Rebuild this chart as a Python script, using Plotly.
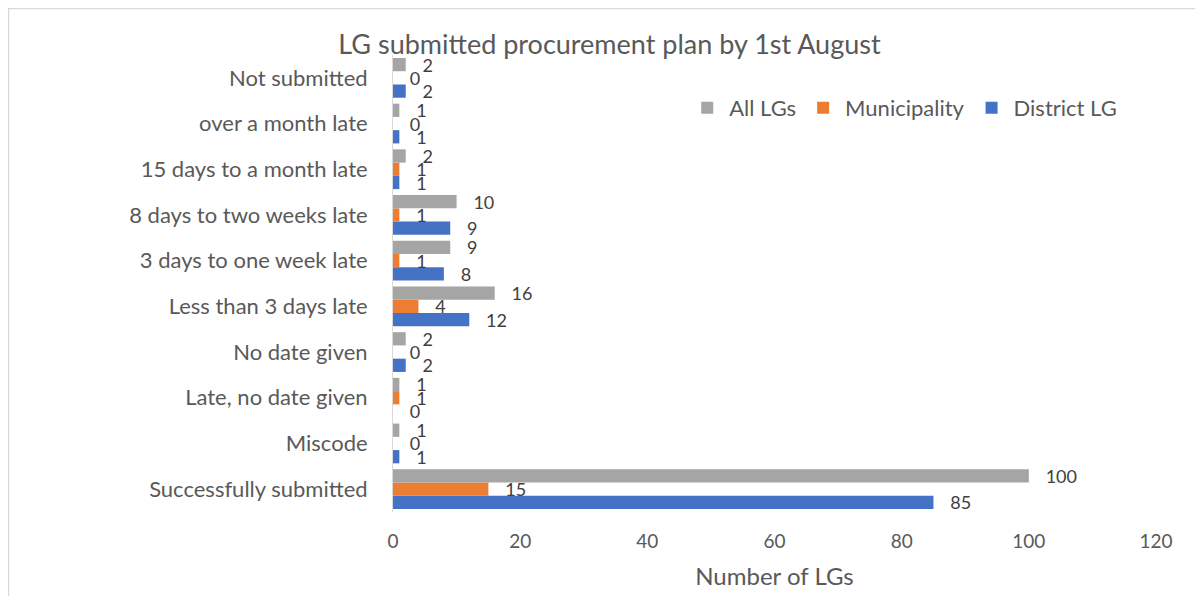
import plotly.graph_objects as go

categories = ["Successfully submitted", "Miscode", "Late, no date given", "No date given",
              "Less than 3 days late", "3 days to one week late", "8 days to two weeks late",
              "15 days to a month late", "over a month late", "Not submitted"]
district_lg = [85, 1, 0, 2, 12, 8, 9, 1, 1, 2]
municipality = [15, 0, 1, 0, 4, 1, 1, 1, 0, 0]
all_lgs = [100, 1, 1, 2, 16, 9, 10, 2, 1, 2]
x_ticks = [0, 20, 40, 60, 80, 100, 120]

FONT = "Lato"
TXT = "#595959"
W, H = 1203, 596
L, R, T, B = 385, 55, 47, 92
PW, PH = W - L - R, H - T - B

fig = go.Figure()
for name, vals, col in [("District LG", district_lg, "#4472C4"),
                        ("Municipality", municipality, "#ED7D31"),
                        ("All LGs", all_lgs, "#A5A5A5")]:
    fig.add_trace(go.Bar(
        y=categories, x=vals, name=name, orientation="h",
        marker=dict(color=col, line=dict(width=0)),
        text=["\u00a0\u00a0\u00a0" + str(v) for v in vals], textposition="outside",
        textfont=dict(family=FONT, size=18, color="#404040"),
        constraintext="none", cliponaxis=False,
    ))

fig.update_layout(
    width=W, height=H,
    margin=dict(l=L, r=R, t=T, b=B),
    barmode="group", bargap=0.13, bargroupgap=0,
    plot_bgcolor="white", paper_bgcolor="white",
    font=dict(family=FONT, color=TXT, size=21),
    title=dict(text="LG submitted procurement plan by 1st August", x=0.5, xanchor="center",
               y=1 - 37 / H, yanchor="middle", font=dict(size=27, color=TXT, family=FONT)),
    legend=dict(orientation="h", traceorder="reversed", x=0.383, y=(504 - 100) / PH,
                xanchor="left", yanchor="middle", font=dict(size=22, color=TXT),
                itemwidth=34, bgcolor="rgba(0,0,0,0)"),
    showlegend=True,
)
fig.update_xaxes(range=[0, 120], tickvals=x_ticks, showgrid=False, zeroline=False,
                 showline=False, ticks="", ticklabelstandoff=16, tickfont=dict(size=19, color=TXT),
                 title=dict(text="Number of LGs", font=dict(size=24, color=TXT), standoff=17))
fig.update_yaxes(categoryorder="array", categoryarray=categories, showgrid=False,
                 showline=True, linecolor="#D9D9D9", linewidth=1, ticks="",
                 ticklabelstandoff=20, tickfont=dict(size=22, color=TXT))

fig.add_shape(type="rect", xref="paper", yref="paper",
              x0=(0.5 - L) / PW, x1=(1215 - L) / PW,
              y0=(504 - 640) / PH, y1=(504 - 0.5) / PH,
              line=dict(color="#D9D9D9", width=1.5), fillcolor="rgba(0,0,0,0)", layer="below")

fig.write_html("out.html")
